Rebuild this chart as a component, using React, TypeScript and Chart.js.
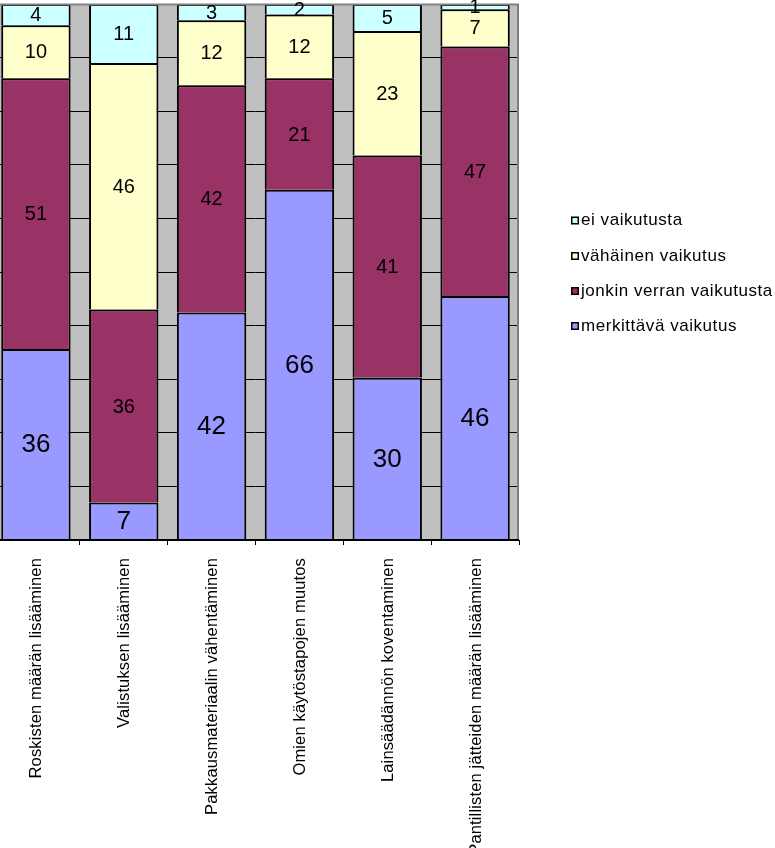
import React, { useEffect, useRef } from "react";
import { Chart, registerables } from "chart.js";

Chart.register(...registerables);

const categories = [
  "Roskisten määrän lisääminen",
  "Valistuksen lisääminen",
  "Pakkausmateriaalin vähentäminen",
  "Omien käytöstapojen muutos",
  "Lainsäädännön koventaminen",
  "Pantillisten jätteiden määrän lisääminen",
];

const seriesNames = [
  "merkittävä vaikutus",
  "jonkin verran vaikutusta",
  "vähäinen vaikutus",
  "ei vaikutusta",
];

const merkittava = [36, 7, 42, 66, 30, 46];
const jonkinVerran = [51, 36, 42, 21, 41, 47];
const vahainen = [10, 46, 12, 12, 23, 7];
const eiVaikutusta = [4, 11, 3, 2, 5, 1];

const yTicks = [0, 10, 20, 30, 40, 50, 60, 70, 80, 90, 100];

const colors = ["#9999FF", "#993366", "#FFFFCC", "#CCFFFF"];
const FONT = "'Liberation Sans', Arial, sans-serif";

export default function App() {
  const ref = useRef<HTMLCanvasElement | null>(null);

  useEffect(() => {
    const canvas = ref.current;
    if (!canvas) return;
    const raw = [merkittava, jonkinVerran, vahainen, eiVaikutusta];
    const totals = categories.map((_, j) => raw.reduce((s, arr) => s + arr[j], 0));
    const norm = raw.map((arr) => arr.map((v, j) => (v / totals[j]) * 100));

    const bgPlugin = {
      id: "bg",
      beforeDraw(chart: any) {
        const { ctx, chartArea: a } = chart;
        ctx.save();
        ctx.fillStyle = "#FFFFFF";
        ctx.fillRect(0, 0, chart.width, chart.height);
        ctx.fillStyle = "#C0C0C0";
        ctx.fillRect(a.left, a.top, a.right - a.left, a.bottom - a.top);
        ctx.restore();
      },
      afterDatasetsDraw(chart: any) {
        const { ctx, chartArea: a } = chart;
        ctx.save();
        ctx.strokeStyle = "#808080";
        ctx.lineWidth = 2;
        ctx.beginPath();
        ctx.moveTo(a.left, a.top + 0.5);
        ctx.lineTo(a.right, a.top + 0.5);
        ctx.moveTo(a.right - 1, a.top);
        ctx.lineTo(a.right - 1, a.bottom);
        ctx.stroke();
        ctx.strokeStyle = "#000000";
        ctx.beginPath();
        ctx.moveTo(a.left, a.bottom);
        ctx.lineTo(a.right, a.bottom);
        ctx.stroke();

        ctx.fillStyle = "#000000";
        ctx.textAlign = "center";
        ctx.textBaseline = "middle";
        raw.forEach((arr, i) => {
          const meta = chart.getDatasetMeta(i);
          ctx.font = `${i === 0 ? 26 : 20}px ${FONT}`;
          meta.data.forEach((el: any, j: number) => {
            const p = el.getProps(["x", "y", "base"], true);
            ctx.fillText(String(arr[j]), p.x, (p.y + p.base) / 2 + 1);
          });
        });
        ctx.restore();
      },
      afterDraw(chart: any) {
        const { ctx, chartArea: a } = chart;
        const xs = chart.scales.x;
        ctx.save();
        ctx.fillStyle = "#000000";
        ctx.font = `16.5px ${FONT}`;
        (ctx as any).letterSpacing = "0.15px";
        ctx.textAlign = "right";
        ctx.textBaseline = "middle";
        categories.forEach((c, j) => {
          const x = xs.getPixelForValue(j);
          ctx.save();
          ctx.translate(x + 1, a.bottom + 18);
          ctx.rotate(-Math.PI / 2);
          ctx.fillText(c, 0, 0);
          ctx.restore();
        });
        (ctx as any).letterSpacing = "0.55px";
        ctx.font = `17px ${FONT}`;
        ctx.textAlign = "left";
        const legendX = a.right + 52;
        const legendYs = [220.5, 256, 291, 326];
        [3, 2, 1, 0].forEach((si, k) => {
          const cy = legendYs[k];
          ctx.fillStyle = colors[si];
          ctx.fillRect(legendX, cy - 4, 8, 8);
          ctx.strokeStyle = "#000000";
          ctx.lineWidth = 1.5;
          ctx.strokeRect(legendX + 0.75, cy - 3.25, 6.5, 6.5);
          ctx.fillStyle = "#000000";
          ctx.fillText(seriesNames[si], legendX + 10, cy);
        });
        ctx.restore();
      },
    };

    const chart = new Chart(canvas, {
      type: "bar",
      data: {
        labels: categories,
        datasets: norm.map((d, i) => ({
          label: seriesNames[i],
          data: d,
          backgroundColor: colors[i],
          borderColor: "#000000",
          borderWidth: 2,
          borderSkipped: "bottom",
          barPercentage: 0.79,
          categoryPercentage: 1,
        })),
      },
      options: {
        responsive: false,
        animation: false,
        layout: { padding: { left: 2, right: 256, top: 4, bottom: 0 } },
        plugins: { legend: { display: false }, tooltip: { enabled: false } },
        scales: {
          x: {
            stacked: true,
            offset: true,
            grid: {
              offset: true,
              drawOnChartArea: false,
              drawTicks: true,
              tickLength: 5,
              color: "#000000",
              lineWidth: 1,
            },
            border: { display: false },
            ticks: { display: false },
            afterFit: (s: any) => {
              s.height = 308;
            },
          },
          y: {
            stacked: true,
            min: yTicks[0],
            max: yTicks[yTicks.length - 1],
            afterBuildTicks: (s: any) => {
              s.ticks = yTicks.map((v) => ({ value: v }));
            },
            ticks: { display: false },
            grid: {
              color: (c: any) =>
                c.tick && (c.tick.value === 0 || c.tick.value === 100) ? "rgba(0,0,0,0)" : "#000000",
              drawTicks: false,
              lineWidth: 1,
            },
            border: { display: false },
            afterFit: (s: any) => {
              s.width = 0;
            },
          },
        },
      },
      plugins: [bgPlugin],
    } as any);

    return () => chart.destroy();
  }, []);

  return (
    <div style={{ position: "absolute", left: -10, top: 0, width: 785, height: 848, overflow: "hidden" }}>
      <canvas ref={ref} width={785} height={848} style={{ display: "block", width: 785, height: 848 }} />
    </div>
  );
}
